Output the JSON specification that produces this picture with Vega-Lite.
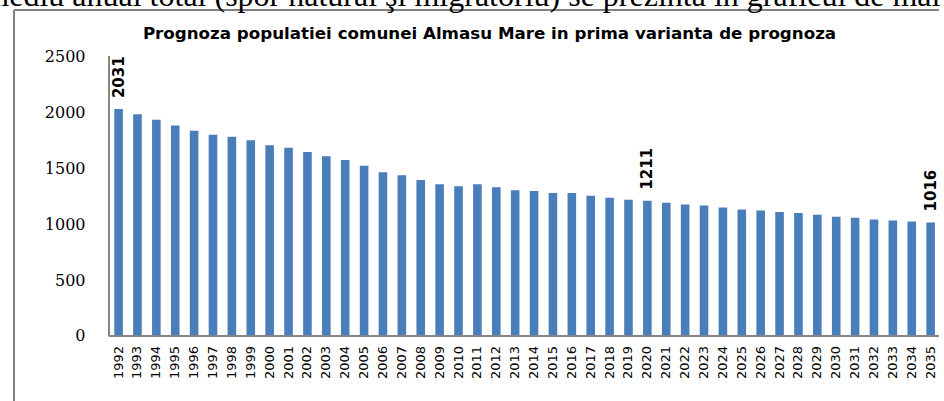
{
  "$schema": "https://vega.github.io/schema/vega-lite/v6.json",
  "width": 935,
  "height": 391,
  "autosize": {"type": "none"},
  "padding": {"left": 9, "top": 10, "right": 0, "bottom": 0},
  "background": "white",
  "config": {
    "view": {"stroke": null, "fill": "white"},
    "axis": {"labelOverlap": false, "labelFlush": false, "ticks": false, "domain": false, "grid": false, "title": null}
  },
  "title": {
    "text": "mediu anual total (spor natural şi migratoriu) se prezintă în graficul de mai jos:",
    "subtitle": "Prognoza populatiei comunei Almasu Mare in prima varianta de prognoza",
    "anchor": "middle",
    "frame": "group",
    "offset": -34,
    "dx": 13,
    "font": "Liberation Serif",
    "fontSize": 32,
    "fontWeight": "normal",
    "color": "black",
    "subtitleFont": "DejaVu Sans",
    "subtitleFontSize": 16.7,
    "subtitleFontWeight": "bold",
    "subtitleColor": "black",
    "subtitlePadding": 13
  },
  "data": {
    "values": [
      {"year": 1992, "value": 2031, "label": "2031"},
      {"year": 1993, "value": 1985, "label": ""},
      {"year": 1994, "value": 1935, "label": ""},
      {"year": 1995, "value": 1884, "label": ""},
      {"year": 1996, "value": 1836, "label": ""},
      {"year": 1997, "value": 1801, "label": ""},
      {"year": 1998, "value": 1783, "label": ""},
      {"year": 1999, "value": 1753, "label": ""},
      {"year": 2000, "value": 1708, "label": ""},
      {"year": 2001, "value": 1684, "label": ""},
      {"year": 2002, "value": 1648, "label": ""},
      {"year": 2003, "value": 1609, "label": ""},
      {"year": 2004, "value": 1576, "label": ""},
      {"year": 2005, "value": 1524, "label": ""},
      {"year": 2006, "value": 1465, "label": ""},
      {"year": 2007, "value": 1438, "label": ""},
      {"year": 2008, "value": 1396, "label": ""},
      {"year": 2009, "value": 1358, "label": ""},
      {"year": 2010, "value": 1340, "label": ""},
      {"year": 2011, "value": 1358, "label": ""},
      {"year": 2012, "value": 1331, "label": ""},
      {"year": 2013, "value": 1304, "label": ""},
      {"year": 2014, "value": 1297, "label": ""},
      {"year": 2015, "value": 1279, "label": ""},
      {"year": 2016, "value": 1279, "label": ""},
      {"year": 2017, "value": 1255, "label": ""},
      {"year": 2018, "value": 1237, "label": ""},
      {"year": 2019, "value": 1219, "label": ""},
      {"year": 2020, "value": 1211, "label": "1211"},
      {"year": 2021, "value": 1193, "label": ""},
      {"year": 2022, "value": 1178, "label": ""},
      {"year": 2023, "value": 1169, "label": ""},
      {"year": 2024, "value": 1151, "label": ""},
      {"year": 2025, "value": 1133, "label": ""},
      {"year": 2026, "value": 1124, "label": ""},
      {"year": 2027, "value": 1109, "label": ""},
      {"year": 2028, "value": 1100, "label": ""},
      {"year": 2029, "value": 1085, "label": ""},
      {"year": 2030, "value": 1067, "label": ""},
      {"year": 2031, "value": 1058, "label": ""},
      {"year": 2032, "value": 1043, "label": ""},
      {"year": 2033, "value": 1034, "label": ""},
      {"year": 2034, "value": 1025, "label": ""},
      {"year": 2035, "value": 1016, "label": "1016"}
    ]
  },
  "layer": [
    {
      "mark": {"type": "bar", "width": 8.6, "color": "#4A7EBB"},
      "encoding": {
        "x": {
          "field": "year",
          "type": "quantitative",
          "scale": {"domain": [1986.463, 2035.442], "nice": false, "zero": false},
          "axis": {"title": null, "labels": false, "ticks": false, "domain": false, "grid": false}
        },
        "y": {
          "field": "value",
          "type": "quantitative",
          "scale": {"domain": [-582, 2918], "nice": false, "zero": false},
          "axis": {
            "title": null,
            "orient": "left",
            "offset": -96,
            "values": [0, 500, 1000, 1500, 2000, 2500],
            "format": "d",
            "labelPadding": 20,
            "labelFont": "DejaVu Serif",
            "labelFontSize": 16,
            "labelColor": "black",
            "labelOverlap": false,
            "ticks": false,
            "domain": false,
            "grid": false
          }
        },
        "y2": {"datum": 0}
      }
    },
    {
      "mark": {"type": "rule", "color": "#808080", "strokeWidth": 1},
      "encoding": {
        "x": {"datum": 1986.463, "type": "quantitative"},
        "y": {"datum": -582, "type": "quantitative"},
        "y2": {"datum": 2918}
      }
    },
    {
      "mark": {"type": "rule", "color": "#808080", "strokeWidth": 1},
      "encoding": {
        "x": {"datum": 1986.463, "type": "quantitative"},
        "x2": {"datum": 2035.442},
        "y": {"datum": 2918, "type": "quantitative"}
      }
    },
    {
      "mark": {"type": "rule", "color": "#868686", "strokeWidth": 1},
      "encoding": {
        "x": {"datum": 1991.492, "type": "quantitative"},
        "y": {"datum": 0, "type": "quantitative"},
        "y2": {"datum": 2500}
      }
    },
    {
      "mark": {"type": "rule", "color": "#868686", "strokeWidth": 1},
      "encoding": {
        "x": {"datum": 1991.492, "type": "quantitative"},
        "x2": {"datum": 2035.442},
        "y": {"datum": 0, "type": "quantitative"}
      }
    },
    {
      "mark": {"type": "text", "angle": 270, "align": "right", "baseline": "middle", "dx": -10, "font": "DejaVu Sans", "fontSize": 13, "color": "black"},
      "encoding": {
        "x": {"field": "year", "type": "quantitative"},
        "y": {"datum": 0, "type": "quantitative"},
        "text": {"field": "year", "type": "quantitative", "format": "d"}
      }
    },
    {
      "transform": [{"filter": "datum.label != ''"}],
      "mark": {"type": "text", "angle": 270, "align": "left", "baseline": "middle", "dx": 11, "font": "DejaVu Sans", "fontWeight": "bold", "fontSize": 15, "color": "black"},
      "encoding": {
        "x": {"field": "year", "type": "quantitative"},
        "y": {"field": "value", "type": "quantitative"},
        "text": {"field": "label"}
      }
    }
  ]
}
